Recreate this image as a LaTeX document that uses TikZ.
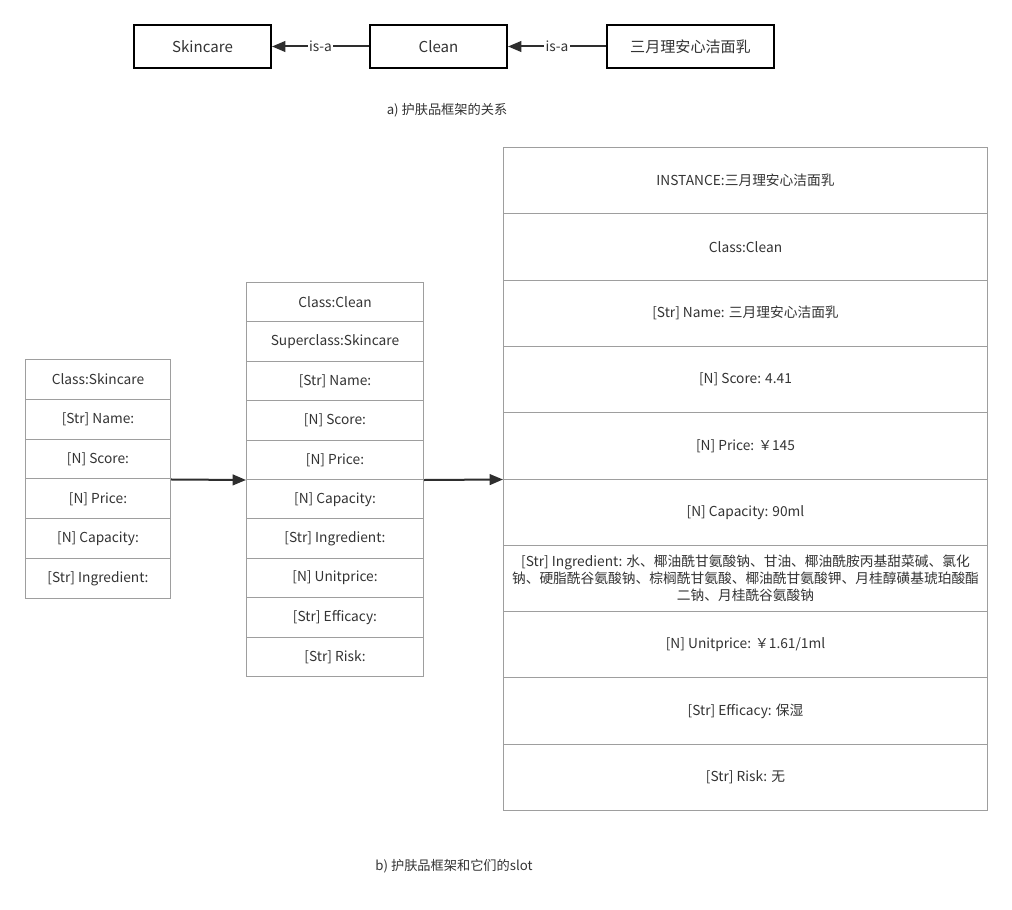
\documentclass[tikz,border=0pt]{standalone}
\usepackage{fontspec}
\setmainfont{Noto Sans CJK SC}
\usetikzlibrary{arrows.meta}
\definecolor{txt}{HTML}{333333}
\definecolor{grid}{HTML}{9E9E9E}
\definecolor{arr}{HTML}{2E2E2E}
\begin{document}
\begin{tikzpicture}[x=0.75pt,y=-0.75pt,
  every node/.style={text=txt,font=\fontsize{10.3}{12.75}\selectfont},
  topbox/.style={draw=black,line width=1.5pt,fill=white,minimum width=#1*0.75pt,minimum height=43*0.75pt,inner sep=0pt,font=\fontsize{11.3}{13}\selectfont},
  cell/.style 2 args={draw=grid,line width=0.75pt,anchor=north west,minimum width=#1*0.75pt,minimum height=#2*0.75pt,inner sep=0pt,align=center},
  conn/.style={draw=arr,line width=1.5pt,-{Triangle[length=10pt,width=8pt]}},
  lbl/.style={fill=white,inner sep=1pt},
  captext/.style={font=\fontsize{9.9}{12}\selectfont}]
\useasboundingbox (0,0) rectangle (1012,909);
% top row
\node[topbox=137] (skin) at (202.5,46.5) {Skincare};
\node[topbox=137] (clean) at (438.5,46.5) {Clean};
\node[topbox=167] (inst) at (690.5,46.5) {三月理安心洁面乳};
\draw[conn] (clean.west) -- node[lbl]{is-a} (skin.east);
\draw[conn] (inst.west) -- node[lbl]{is-a} (clean.east);
\node[captext] (capa) at (447,110) {a) 护肤品框架的关系};
% left table
\foreach \t [count=\i from 0] in {{Class:Skincare},{[Str] Name:},{[N] Score:},{[N] Price:},{[N] Capacity:},{[Str] Ingredient:}}
  \node[cell={145}{39.83}] (L\i) at (25,{359+\i*39.83}) {\t};
% middle table
\foreach \t [count=\i from 0] in {{Class:Clean},{Superclass:Skincare},{[Str] Name:},{[N] Score:},{[N] Price:},{[N] Capacity:},{[Str] Ingredient:},{[N] Unitprice:},{[Str] Efficacy:},{[Str] Risk:}}
  \node[cell={177}{39.4}] (M\i) at (246,{282+\i*39.4}) {\t};
% right table
\foreach \t [count=\i from 0] in {{INSTANCE:三月理安心洁面乳},{Class:Clean},{[Str] Name: 三月理安心洁面乳},{[N] Score: 4.41},{[N] Price: ￥145},{[N] Capacity: 90ml},{[Str] Ingredient: 水、椰油酰甘氨酸钠、甘油、椰油酰胺丙基甜菜碱、氯化\\钠、硬脂酰谷氨酸钠、棕榈酰甘氨酸、椰油酰甘氨酸钾、月桂醇磺基琥珀酸酯\\二钠、月桂酰谷氨酸钠},{[N] Unitprice: ￥1.61/1ml},{[Str] Efficacy: 保湿},{[Str] Risk: 无}}
  \node[cell={484}{66.3}] (R\i) at (503,{147+\i*66.3}) {\t};
\draw[conn] (L2.south east) -- (M4.south west);
\draw[conn] (M4.south east) -- (R4.south west);
\node[captext] (capb) at (454,866) {b) 护肤品框架和它们的slot};
\end{tikzpicture}
\end{document}
